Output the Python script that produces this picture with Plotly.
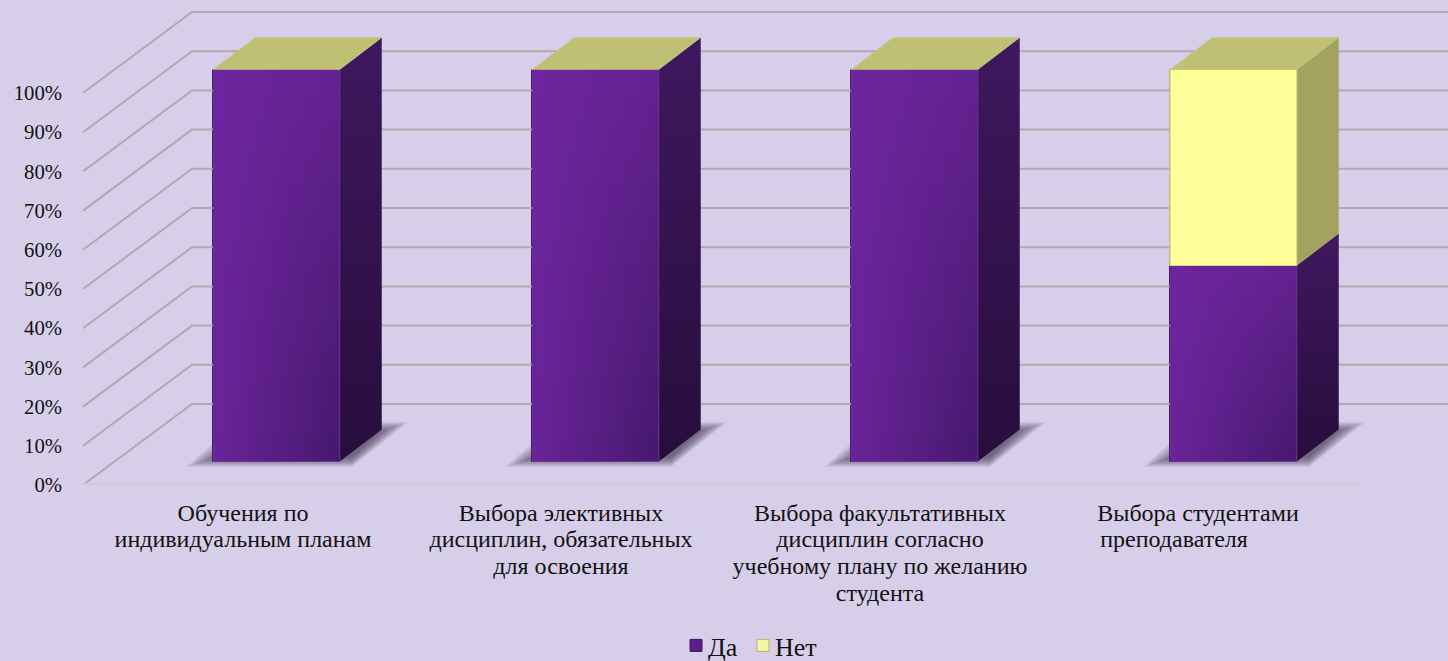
import plotly.graph_objects as go

# --- data ---
categories = [
    ["Обучения по", "индивидуальным планам"],
    ["Выбора элективных", "дисциплин, обязательных", "для освоения"],
    ["Выбора факультативных", "дисциплин согласно", "учебному плану по желанию", "студента"],
    ["Выбора студентами", "преподавателя" + "\u00a0" * 8],
]
da_values = [100, 100, 100, 50]
net_values = [0, 0, 0, 50]
y_ticks = [0, 10, 20, 30, 40, 50, 60, 70, 80, 90, 100]
y_tick_text = [f"{v}%" for v in y_ticks]

# --- geometry (axis units: 1 x unit = one category step, y unit = percent) ---
W, H = 1448, 661
PX_X = 319.0
PX_Y = 3.92
CENTER0 = 276.5
LEFT = 63
FLOOR_PX = 485
def X(px):
    return (px - CENTER0) / PX_X
BAR_W = 126.5 / PX_X
DEPTH_X = 42 / PX_X
DEPTH_Y = 32 / PX_Y
BASE = 23.5 / PX_Y
WALL_X0 = X(83)
WALL_DX = 109 / PX_X
WALL_DY = 81 / PX_Y
label_shift = [-33.5 / PX_X, -34.5 / PX_X, -34.5 / PX_X, -35.5 / PX_X]

BG = "#d7cfe9"
GRID = "#aeaaae"
FONT = "Liberation Serif"
INK = "#111111"


def hex2rgb(c):
    return [int(c[i:i + 2], 16) for i in (1, 3, 5)]


def mix(a, b, t):
    ra, rb = hex2rgb(a), hex2rgb(b)
    return "#%02x%02x%02x" % tuple(round(p + (q - p) * t) for p, q in zip(ra, rb))


def label(lines):
    return "<br>".join(f'<span style="font-size:24px">{s}</span>' for s in lines)


fig = go.Figure()

# real stacked bars (carry the legend)
bx = list(range(len(categories)))
fig.add_trace(go.Bar(x=bx, y=da_values, base=[BASE] * 4, width=BAR_W, name="Да",
                     marker=dict(color="#5b1f8c", line=dict(width=1, color="#3d1560"))))
fig.add_trace(go.Bar(x=bx, y=net_values, base=[BASE + d for d in da_values], width=BAR_W, name="Нет",
                     marker=dict(color="#f6f6a0", line=dict(width=1, color="#b5b56a"))))


def poly(xs, ys, color=None, grad=None, line=None):
    kw = dict(x=xs + xs[:1], y=ys + ys[:1], mode="lines", fill="toself", showlegend=False,
              hoverinfo="skip", line=dict(width=line[1], color=line[0]) if line else dict(width=0))
    if grad:
        kw["fillgradient"] = dict(type=grad[0], colorscale=[[0, grad[1]], [1, grad[2]]])
    else:
        kw["fillcolor"] = color
    fig.add_trace(go.Scatter(**kw))


# wall grid lines
for v in y_ticks:
    fig.add_trace(go.Scatter(
        x=[WALL_X0, WALL_X0 + WALL_DX, X(1460)],
        y=[v, v + WALL_DY, v + WALL_DY], mode="lines", showlegend=False, hoverinfo="skip",
        line=dict(color=GRID, width=2)))
# floor front edge
fig.add_trace(go.Scatter(x=[WALL_X0, X(1360)], y=[0.1, 0.1], mode="lines", showlegend=False,
                         hoverinfo="skip", line=dict(color="#cfcdd4", width=2.5)))

# soft shadows
for i in bx:
    for k in range(14):
        ins = k * 2.2 / PX_X
        insy = k * 0.75 / PX_Y
        xa = i + X(186) - X(276.5) + ins
        xb = i + X(352) - X(276.5)
        ya = (FLOOR_PX - 467) / PX_Y + insy
        yb = (FLOOR_PX - 422) / PX_Y - insy
        sx = 50 / PX_X
        poly([xa, xb, xb + sx + 0.02 - ins, xa + sx],
             [ya, ya, yb, yb], color="rgba(60,52,70,0.065)")

# 3-D faces
N_BANDS = 14
for i, (d, n) in enumerate(zip(da_values, net_values)):
    x0, x1 = i - BAR_W / 2, i + BAR_W / 2
    y0, y1 = BASE, BASE + d
    poly([x1, x1 + DEPTH_X, x1 + DEPTH_X, x1],
         [y0, y0 + DEPTH_Y, y1 + DEPTH_Y, y1], grad=("vertical", "#270d3c", "#3f185f"))
    for b in range(N_BANDS):
        t = b / N_BANDS
        ta = y1 - (y1 - y0) * t
        tb = y1 - (y1 - y0) * (b + 1) / N_BANDS
        left = mix("#6d259f", "#692499", t)
        right = mix("#62228f", "#44176b", t)
        poly([x0, x1, x1, x0], [ta, ta, max(tb - 0.3, y0), max(tb - 0.3, y0)],
             grad=("horizontal", left, right))
    poly([x0, x1, x1, x0], [y0, y0, y1, y1], color="rgba(0,0,0,0)", line=("#6a3592", 1))
    if n > 0:
        y2 = y1 + n
        poly([x1, x1 + DEPTH_X, x1 + DEPTH_X, x1],
             [y1, y1 + DEPTH_Y, y2 + DEPTH_Y, y2], color="#a3a35f")
        poly([x0, x1, x1, x0], [y1, y1, y2, y2], color="#ffff99", line=("#d8d884", 1))
        y1 = y2
    poly([x0, x1, x1 + DEPTH_X, x0 + DEPTH_X],
         [y1, y1, y1 + DEPTH_Y, y1 + DEPTH_Y], color="#c0c074", line=("#c6c67c", 0.5))

LEGEND_H = 44
fig.update_layout(
    width=W, height=H,
    autosize=False,
    paper_bgcolor=BG, plot_bgcolor=BG,
    margin=dict(l=0, r=0, t=0, b=0, pad=0),
    barmode="overlay",
    bargap=0,
    font=dict(family=FONT, size=21, color=INK),
    showlegend=True,
    legend=dict(orientation="h", x=668 / W, xanchor="left", y=LEGEND_H / H, yanchor="bottom",
                traceorder="normal", itemwidth=30, entrywidth=22, entrywidthmode="pixels",
                bgcolor="rgba(0,0,0,0)",
                font=dict(family=FONT, size=26, color=INK), itemclick=False, itemdoubleclick=False),
    xaxis=dict(domain=[LEFT / W, 1], range=[X(LEFT), X(W)], automargin=False, showgrid=False, zeroline=False,
               showline=False, tickmode="array", tickvals=[i + s for i, s in enumerate(label_shift)],
               ticktext=[label(c) for c in categories], tickangle=0, ticks="outside", ticklen=10,
               tickcolor="rgba(0,0,0,0)", tickfont=dict(family=FONT, size=20.5, color=INK)),
    yaxis=dict(domain=[(H - FLOOR_PX) / H, 1], range=[0, FLOOR_PX / PX_Y], automargin=False, showgrid=False,
               zeroline=False, showline=False, tickmode="array", tickvals=y_ticks, ticktext=y_tick_text,
               ticks="", tickfont=dict(family=FONT, size=20.7, color=INK)),
)

html_post = ("""
document.documentElement.style.margin='0';document.body.style.margin='0';
document.body.style.background='%s';document.body.style.overflow='hidden';
document.querySelectorAll('.legendsymbols').forEach(function(g){g.setAttribute('transform','translate(8,0)');});
var lg=document.querySelector('.legend');
if(lg){
  lg.setAttribute('transform',lg.getAttribute('transform').replace(/translate\\(([^,]+),\\s*([^)]+)\\)/,function(m,a,b){return 'translate('+a+','+(parseFloat(b)+%d)+')';}));
  var sb=lg.querySelector('.scrollbox');
  if(sb){sb.removeAttribute('clip-path');sb.style.clipPath='none';}
}
""" % (BG, 52))
fig.write_html("out.html", post_script=html_post, default_width=f"{W}px", default_height=f"{H}px",
               config={"displayModeBar": False})
